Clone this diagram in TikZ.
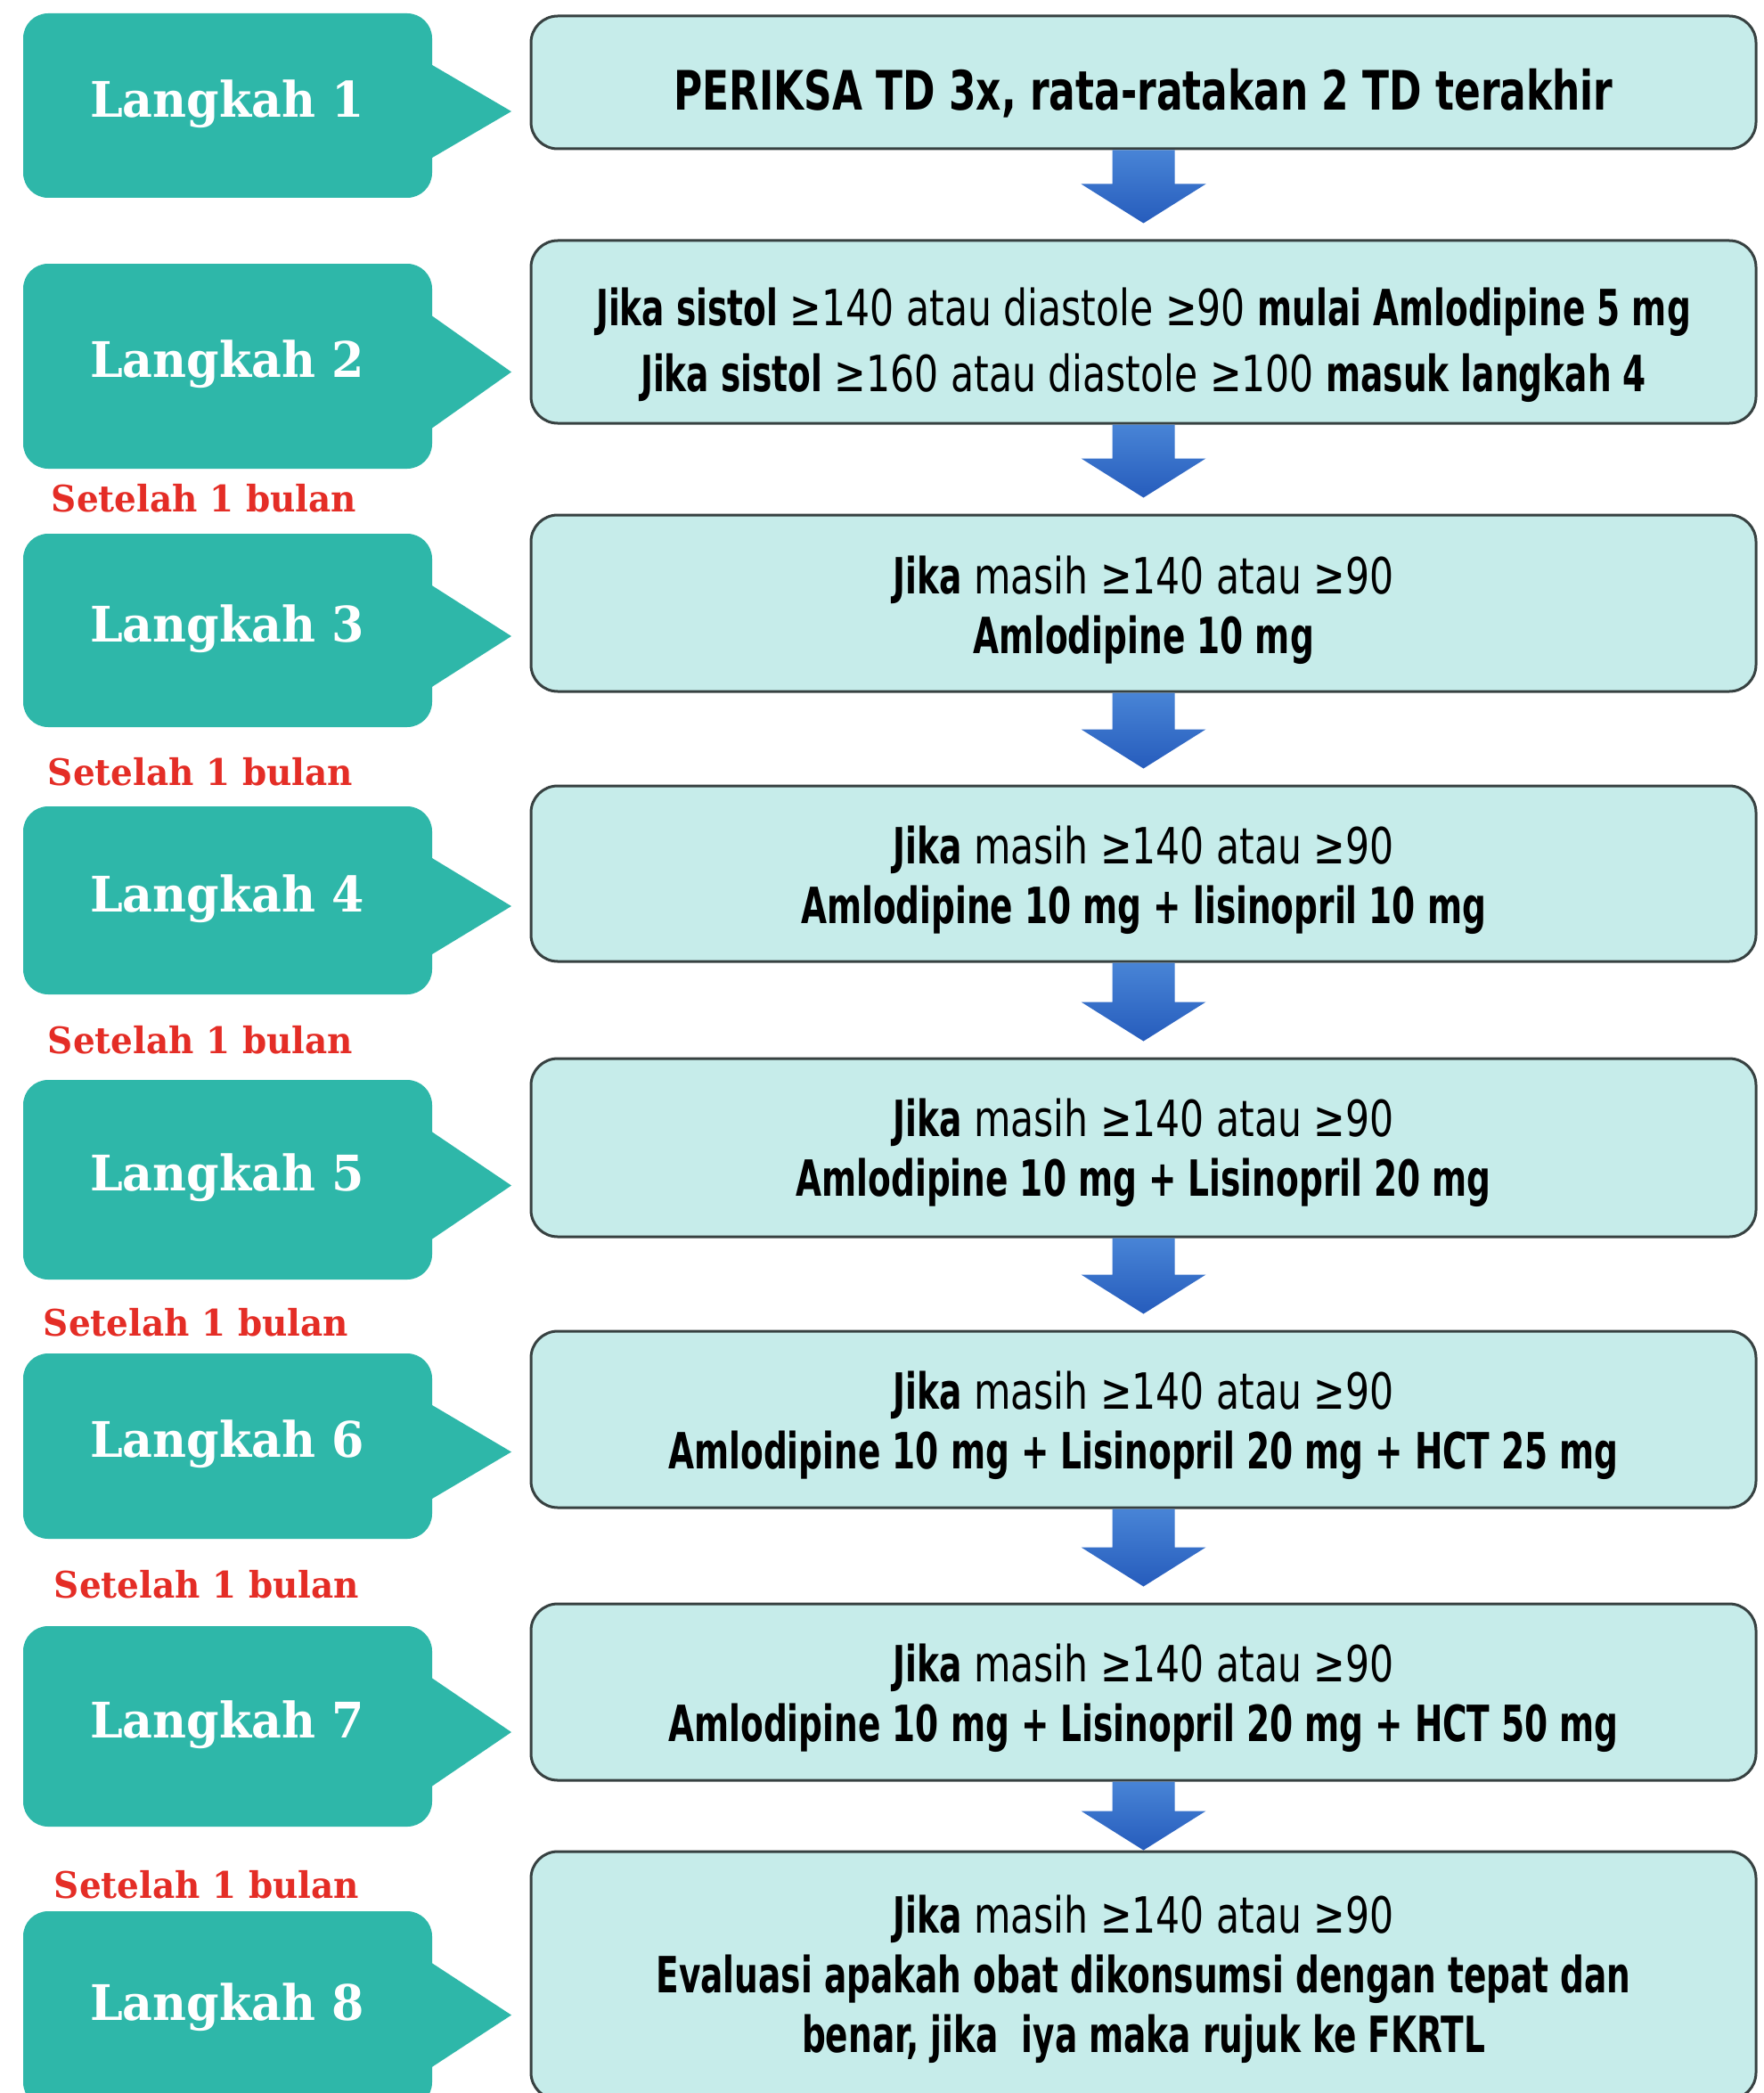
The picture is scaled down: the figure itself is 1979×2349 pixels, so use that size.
\documentclass[tikz,border=0pt]{standalone}
\usepackage{fontspec}
\usetikzlibrary{calc}

\newfontfamily\boxfont[FakeStretch=0.76]{DejaVu Sans}
\newfontfamily\boxbold[FakeStretch=0.67]{DejaVu Sans}
\newfontfamily\headfont[FakeStretch=0.72]{DejaVu Sans}
\newfontfamily\tagfont[FakeStretch=0.95]{DejaVu Serif}
\newcommand{\bd}[1]{{\boxbold\bfseries #1}}
\newcommand{\dropline}[1]{\rule{0pt}{#1pt}}

\definecolor{tagteal}{RGB}{46,183,169}
\definecolor{boxcyan}{RGB}{198,236,234}
\definecolor{boxline}{RGB}{55,65,65}
\definecolor{waitred}{RGB}{228,45,38}
\definecolor{arrowtop}{RGB}{72,132,214}
\definecolor{arrowbot}{RGB}{38,92,188}

\tikzset{
  stepbox/.style={draw=boxline, line width=3pt, fill=boxcyan, rounded corners=30pt,
    minimum width=1375pt, align=center, inner sep=0pt,
    font=\boxfont\fontsize{56pt}{67pt}\selectfont},
  tagtext/.style={text=white, font=\tagfont\bfseries\fontsize{55pt}{60pt}\selectfont},
  waittext/.style={text=waitred, font=\tagfont\bfseries\fontsize{41pt}{44pt}\selectfont}
}

% tag: top, bottom, name, number
\newcommand{\steptag}[4]{%
  \fill[tagteal, rounded corners=28pt] (26,#1) rectangle (485,#2);
  \fill[tagteal] (480,#1+55) -- (574,{(#1+55+#2-42)/2}) -- (480,#2-42) -- cycle;
  \node[tagtext] (#3) at (255,{(#1+#2)/2-2}) {Langkah #4};}

% block arrow from one box to the next, tip #3 above the next box
\newcommand{\flowarrow}[3]{%
  \shade[top color=arrowtop, bottom color=arrowbot]
    ($(#1.south)+(-35pt,0pt)$) -- ($(#1.south)+(35pt,0pt)$)
    -- ($(#2.north)+(35pt,#3pt+44pt)$) -- ($(#2.north)+(70pt,#3pt+44pt)$)
    -- ($(#2.north)+(0pt,#3pt)$)
    -- ($(#2.north)+(-70pt,#3pt+44pt)$) -- ($(#2.north)+(-35pt,#3pt+44pt)$) -- cycle;}

\begin{document}
\begin{tikzpicture}[x=1pt,y=-1pt]
  \useasboundingbox (0,0) rectangle (1979,2349);
  \clip (0,0) rectangle (1979,2349);
  \fill[white] (0,0) rectangle (1979,2349);

  % steps on the left
  \steptag{15}{222}{t1}{1}
  \steptag{296}{526}{t2}{2}
  \steptag{599}{816}{t3}{3}
  \steptag{905}{1116}{t4}{4}
  \steptag{1212}{1436}{t5}{5}
  \steptag{1519}{1727}{t6}{6}
  \steptag{1825}{2050}{t7}{7}
  \steptag{2145}{2365}{t8}{8}

  \node[waittext] (w3) at (229,559) {Setelah 1 bulan};
  \node[waittext] (w4) at (225,866) {Setelah 1 bulan};
  \node[waittext] (w5) at (225,1167) {Setelah 1 bulan};
  \node[waittext] (w6) at (220,1484) {Setelah 1 bulan};
  \node[waittext] (w7) at (232,1778) {Setelah 1 bulan};
  \node[waittext] (w8) at (232,2115) {Setelah 1 bulan};

  % boxes
  \node[stepbox, minimum height=149pt, font=\headfont\bfseries\fontsize{61pt}{66pt}\selectfont]
    (b1) at (1283.5,92.5) {\dropline{70}PERIKSA TD 3x, rata-ratakan 2 TD terakhir};
  \node[stepbox, minimum height=205pt, font=\boxfont\fontsize{56pt}{74pt}\selectfont]
    (b2) at (1283.5,372.5)
    {\dropline{72}\bd{Jika sistol} ≥140 atau diastole ≥90 \bd{mulai Amlodipine 5 mg}\\
     \bd{Jika sistol} ≥160 atau diastole ≥100 \bd{masuk langkah 4}};
  \node[stepbox, minimum height=198pt] (b3) at (1283.5,677)
    {\dropline{58}\bd{Jika} masih ≥140 atau ≥90\\ \bd{Amlodipine 10 mg}};
  \node[stepbox, minimum height=197pt] (b4) at (1283.5,980.5)
    {\dropline{58}\bd{Jika} masih ≥140 atau ≥90\\ \bd{Amlodipine 10 mg + lisinopril 10 mg}};
  \node[stepbox, minimum height=200pt] (b5) at (1283.5,1288)
    {\dropline{54}\bd{Jika} masih ≥140 atau ≥90\\ \bd{Amlodipine 10 mg + Lisinopril 20 mg}};
  \node[stepbox, minimum height=198pt] (b6) at (1283.5,1593)
    {\dropline{56}\bd{Jika} masih ≥140 atau ≥90\\ \bd{Amlodipine 10 mg + Lisinopril 20 mg + HCT 25 mg}};
  \node[stepbox, minimum height=198pt] (b7) at (1283.5,1899)
    {\dropline{56}\bd{Jika} masih ≥140 atau ≥90\\ \bd{Amlodipine 10 mg + Lisinopril 20 mg + HCT 50 mg}};
  \node[stepbox, minimum height=278pt] (b8) at (1283.5,2217)
    {\dropline{52}\bd{Jika} masih ≥140 atau ≥90\\ \bd{Evaluasi apakah obat dikonsumsi dengan tepat dan}\\
     \bd{benar, jika~ iya maka rujuk ke FKRTL}};

  \flowarrow{b1}{b2}{18}
  \flowarrow{b2}{b3}{18}
  \flowarrow{b3}{b4}{18}
  \flowarrow{b4}{b5}{18}
  \flowarrow{b5}{b6}{18}
  \flowarrow{b6}{b7}{18}
  \flowarrow{b7}{b8}{0}
\end{tikzpicture}
\end{document}
